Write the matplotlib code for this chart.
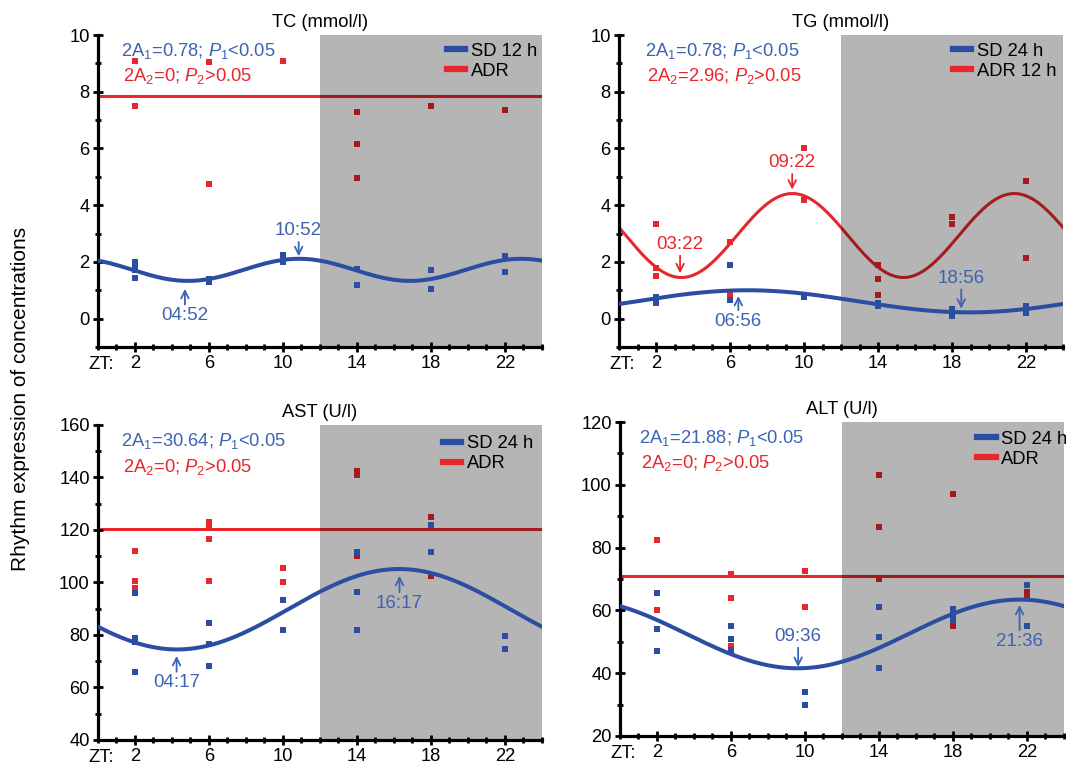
import numpy as np
import matplotlib
matplotlib.use('Agg')
import matplotlib.pyplot as plt
from matplotlib.ticker import MultipleLocator, FixedLocator

plt.rcParams['font.family'] = ['Liberation Sans', 'DejaVu Sans']
plt.rcParams['mathtext.fontset'] = 'custom'
plt.rcParams['mathtext.rm'] = 'Liberation Sans'
plt.rcParams['mathtext.it'] = 'Liberation Sans:italic'

# --- colores ---
AZUL = '#2b4ea3'
AZUL_TXT = '#3d63b3'
ROJO = '#e8262b'

# --- datos (ZT en horas) ---
zt = [2, 6, 10, 14, 18, 22]

# TC (mmol/l)
tc_sd = [[2.0, 1.85, 1.7, 1.45], [1.4, 1.3], [2.25, 2.1, 2.0], [1.75, 1.2], [1.7, 1.05], [2.2, 1.65]]
tc_adr = [[9.1, 7.5], [9.05, 4.75], [9.1], [7.3, 6.15, 4.95], [7.5], [7.35]]
tc_fit_sd = dict(mesor=1.72, amp=0.39, acro=10.87, period=12)
tc_fit_adr = dict(mesor=7.85, amp=0.0, acro=0.0, period=24)

# TG (mmol/l)
tg_sd = [[0.75, 0.65, 0.55], [1.9, 0.65], [0.75], [0.55, 0.45], [0.35, 0.2, 0.1], [0.45, 0.3, 0.2]]
tg_adr = [[3.35, 1.8, 1.5], [2.7, 0.85], [6.0, 4.2], [1.9, 1.4, 0.85], [3.6, 3.35], [4.85, 2.15]]
tg_fit_sd = dict(mesor=0.61, amp=0.39, acro=6.93, period=24)
tg_fit_adr = dict(mesor=2.93, amp=1.48, acro=9.37, period=12)

# AST (U/l)
ast_sd = [[96, 79, 77.5, 66], [84.5, 76.5, 68], [93.5, 82], [111.5, 96.5, 82], [122, 111.5], [79.5, 74.5]]
ast_adr = [[112, 100.5, 98], [123, 121.5, 116.5, 100.5], [105.5, 100], [142.5, 141, 110], [125, 102.5], []]
ast_fit_sd = dict(mesor=89.8, amp=15.32, acro=16.28, period=24)
ast_fit_adr = dict(mesor=120.5, amp=0.0, acro=0.0, period=24)

# ALT (U/l)
alt_sd = [[65.5, 54, 47], [55, 51, 47.5], [34, 30], [61, 51.5, 41.5], [60.5, 58.5, 57], [68, 55]]
alt_adr = [[82.5, 60], [71.5, 64, 48.5], [72.5, 61], [103, 86.5, 70], [97, 55], [66, 64.5]]
alt_fit_sd = dict(mesor=52.5, amp=10.94, acro=21.6, period=24)
alt_fit_adr = dict(mesor=71.0, amp=0.0, acro=0.0, period=24)

# textos de cada panel
paneles = [
    dict(titulo='TC (mmol/l)', sd=tc_sd, adr=tc_adr, fsd=tc_fit_sd, fadr=tc_fit_adr,
         ylim=(-1, 10), ymaj=2, ymin=1, yticks0=0,
         txt1=r'2$\mathrm{A}_1$=0.78; $P_1$<0.05', txt2=r'2$\mathrm{A}_2$=0; $P_2$>0.05',
         txtx=0.052, leg=('SD 12 h', 'ADR'), legpos=(0.786, 0.975),
         flechas=[('04:52', 4.7, 1.05, 0.1, AZUL_TXT), ('10:52', 10.85, 2.2, 3.1, AZUL_TXT)]),
    dict(titulo='TG (mmol/l)', sd=tg_sd, adr=tg_adr, fsd=tg_fit_sd, fadr=tg_fit_adr,
         ylim=(-1, 10), ymaj=2, ymin=1, yticks0=0,
         txt1=r'2$\mathrm{A}_1$=0.78; $P_1$<0.05', txt2=r'2$\mathrm{A}_2$=2.96; $P_2$>0.05',
         txtx=0.059, leg=('SD 24 h', 'ADR 12 h'), legpos=(0.752, 0.975),
         flechas=[('03:22', 3.3, 1.6, 2.62, ROJO), ('09:22', 9.36, 4.55, 5.5, ROJO),
                  ('06:56', 6.45, 0.8, -0.1, AZUL_TXT), ('18:56', 18.5, 0.35, 1.43, AZUL_TXT)]),
    dict(titulo='AST (U/l)', sd=ast_sd, adr=ast_adr, fsd=ast_fit_sd, fadr=ast_fit_adr,
         ylim=(40, 160), ymaj=20, ymin=10, yticks0=40,
         txt1=r'2$\mathrm{A}_1$=30.64; $P_1$<0.05', txt2=r'2$\mathrm{A}_2$=0; $P_2$>0.05',
         txtx=0.052, leg=('SD 24 h', 'ADR'), legpos=(0.777, 0.967),
         flechas=[('04:17', 4.25, 72.0, 61.7, AZUL_TXT), ('16:17', 16.3, 102.5, 92.0, AZUL_TXT)]),
    dict(titulo='ALT (U/l)', sd=alt_sd, adr=alt_adr, fsd=alt_fit_sd, fadr=alt_fit_adr,
         ylim=(20, 120), ymaj=20, ymin=10, yticks0=20,
         txt1=r'2$\mathrm{A}_1$=21.88; $P_1$<0.05', txt2=r'2$\mathrm{A}_2$=0; $P_2$>0.05',
         txtx=0.043, leg=('SD 24 h', 'ADR'), legpos=(0.805, 0.972),
         flechas=[('09:36', 9.63, 42.0, 51.7, AZUL_TXT), ('21:36', 21.6, 61.7, 50.1, AZUL_TXT)]),
]

# posiciones de los ejes en fracción de figura
posiciones = [
    [0.0919, 0.5482, 0.4165, 0.4062],
    [0.5807, 0.5482, 0.4165, 0.4062],
    [0.0919, 0.0365, 0.4165, 0.4102],
    [0.5816, 0.0417, 0.4165, 0.4088],
]

FS = 13.2


def coseno(x, p):
    return p['mesor'] + p['amp'] * np.cos(2 * np.pi * (x - p['acro']) / p['period'])


fig = plt.figure(figsize=(10.66, 7.68), dpi=100)
xs = np.linspace(0, 24, 400)

for pan, pos in zip(paneles, posiciones):
    ax = fig.add_axes(pos)

    # puntos y curva ADR (debajo del sombreado)
    for t, vals in zip(zt, pan['adr']):
        ax.plot([t] * len(vals), vals, 's', color=ROJO, ms=5, mew=0, zorder=1)
    ax.plot(xs, coseno(xs, pan['fadr']), color=ROJO, lw=2.2, zorder=1)

    # fase oscura ZT12-24
    ax.axvspan(12, 24, color='black', alpha=0.29, lw=0, zorder=2)

    # puntos y curva SD
    for t, vals in zip(zt, pan['sd']):
        ax.plot([t] * len(vals), vals, 's', color=AZUL, ms=5, mew=0, zorder=3)
    ax.plot(xs, coseno(xs, pan['fsd']), color=AZUL, lw=2.9, zorder=3)

    ax.set_xlim(0, 24)
    ax.set_ylim(*pan['ylim'])
    ax.xaxis.set_major_locator(FixedLocator(zt))
    ax.xaxis.set_minor_locator(MultipleLocator(1))
    y0, y1 = pan['ylim']
    ax.yaxis.set_major_locator(FixedLocator(np.arange(pan['yticks0'], y1 + 0.01, pan['ymaj'])))
    ax.yaxis.set_minor_locator(MultipleLocator(pan['ymin']))

    for s in ['top', 'right']:
        ax.spines[s].set_visible(False)
    for s in ['left', 'bottom']:
        ax.spines[s].set_linewidth(2.3)
    ax.tick_params(which='major', direction='inout', length=7, width=2, labelsize=FS, pad=2.5)
    ax.tick_params(which='minor', direction='inout', length=4, width=2)

    ax.annotate('ZT:', xy=(0.15, 0), xycoords=('data', 'axes fraction'),
                xytext=(0, -6.5), textcoords='offset points', ha='center', va='top', fontsize=FS)

    ax.set_title(pan['titulo'], fontsize=FS, pad=6)

    ax.text(pan['txtx'], 0.948, pan['txt1'], transform=ax.transAxes, color=AZUL_TXT,
            fontsize=FS, va='center', ha='left', zorder=6)
    ax.text(pan['txtx'] + 0.005, 0.868, pan['txt2'], transform=ax.transAxes, color=ROJO,
            fontsize=FS, va='center', ha='left', zorder=6)

    for lab, xf, ytip, ytxt, col in pan['flechas']:
        ax.annotate(lab, xy=(xf, ytip), xytext=(xf, ytxt), ha='center', va='center',
                    color=col, fontsize=13.5, zorder=6,
                    arrowprops=dict(arrowstyle='->', color=col, lw=1.3,
                                    shrinkA=0, shrinkB=0))

    h1, = ax.plot([], [], color=AZUL, lw=4.5)
    h2, = ax.plot([], [], color=ROJO, lw=4.5)
    ax.legend([h1, h2], pan['leg'], loc='upper left', bbox_to_anchor=pan['legpos'],
              frameon=False, fontsize=FS, handlelength=1.0, handletextpad=0.3,
              labelspacing=0.15, borderpad=0, borderaxespad=0)

fig.text(0.019, 0.48, 'Rhythm expression of concentrations', rotation=90,
         ha='center', va='center', fontsize=15)

fig.savefig('out.png', dpi=100)
